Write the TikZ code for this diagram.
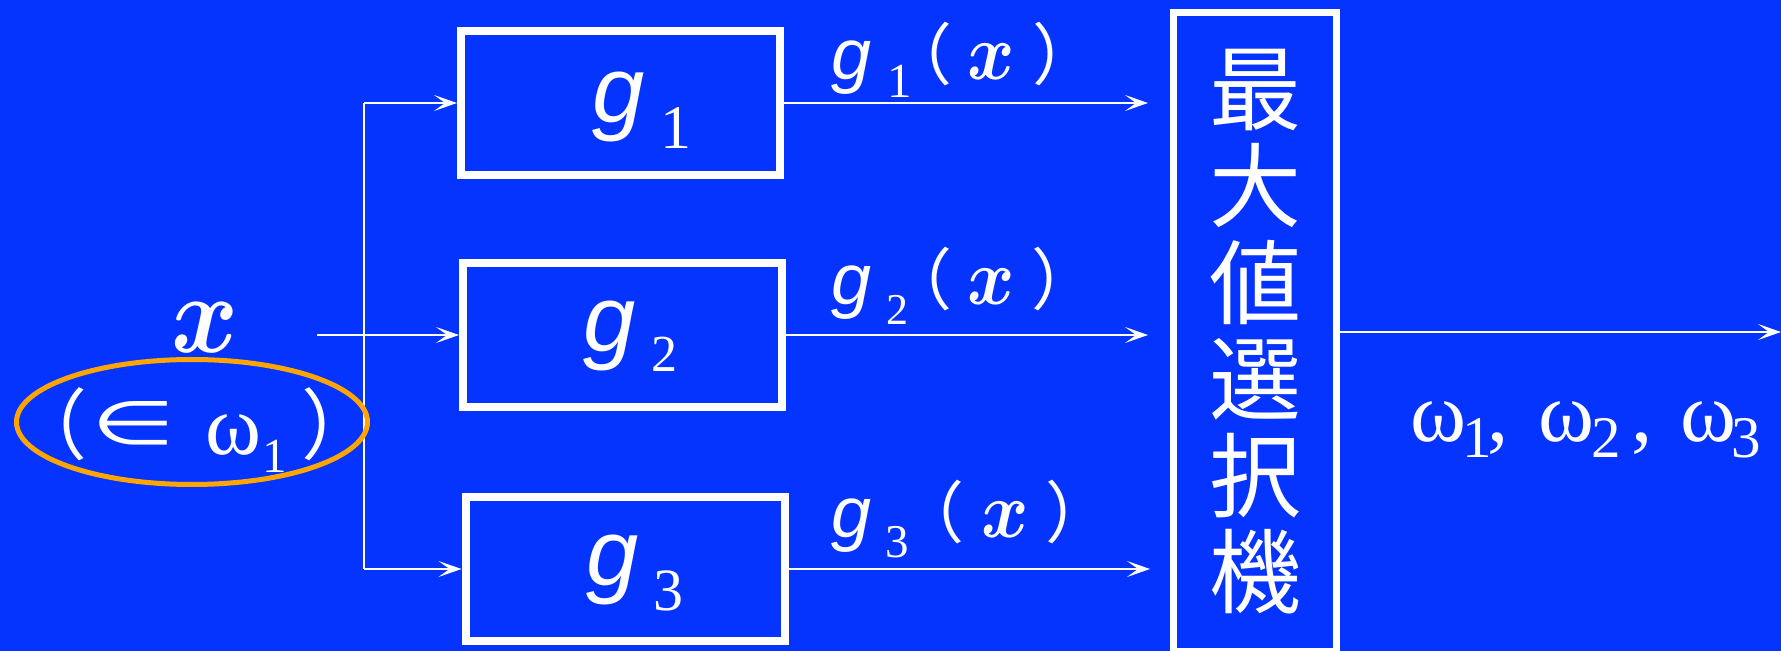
\documentclass[tikz,border=0pt]{standalone}
\usepackage{bm}
\usepackage{fontspec}
\usepackage{graphicx}
\setmainfont{Liberation Serif}
\newfontfamily\gfont{Liberation Sans}
\newfontfamily\cjkfont{Noto Sans CJK JP}
\newfontfamily\symfont{DejaVu Sans}
\usetikzlibrary{arrows.meta,shapes.geometric}
\definecolor{bgblue}{RGB}{5,51,255}
\definecolor{ringorange}{RGB}{255,165,0}
\newcommand{\bx}[2]{\scalebox{#1}[#2]{$\bm{x}$}}
\newcommand{\zw}[1]{\makebox[0pt]{#1}}
\begin{document}
\begin{tikzpicture}[x=0.5pt,y=-0.5pt,
  gbox/.style={draw=white, line width=4pt, minimum width=159.5pt, minimum height=72pt, inner sep=0pt},
  maxbox/.style={draw=white, line width=3.5pt, minimum width=81.5pt, minimum height=319.5pt, inner sep=0pt, text=white, align=center, font=\cjkfont\fontsize{46}{48.3}\selectfont},
  conn/.style={draw=white, line width=1pt},
  arr/.style={conn, -{Stealth[length=11.5pt,width=8pt,inset=5.5pt]}},
  txt/.style={text=white, inner sep=0pt, outer sep=0pt, anchor=base west},
  boxg/.style={txt, font=\gfont\itshape\fontsize{47}{50}\selectfont},
  labg/.style={txt, font=\gfont\itshape\fontsize{36}{40}\selectfont},
  labx/.style={txt},
  subn/.style={txt, font=\fontsize{#1}{#1}\selectfont},
  paren/.style={text=white, inner sep=0pt, outer sep=0pt, anchor=center, font=\cjkfont\fontsize{#1}{#1}\selectfont},
  om/.style={txt, font=\fontsize{42.5}{45}\selectfont},
  ring/.style={ellipse, draw=ringorange, line width=2.5pt, minimum width=175.5pt, minimum height=62.5pt, inner sep=0pt}
]
\fill[bgblue] (0,0) rectangle (1781,651);
\useasboundingbox (0,0) rectangle (1781,651);

% boxes
\node[gbox] (g1) at (620.5,103) {};
\node[gbox] (g2) at (622.5,335) {};
\node[gbox] (g3) at (625,569) {};
\node[maxbox] (max) at (1255,332) {最\\大\\値\\選\\択\\機};

% connectors
\coordinate (in) at (317,335);
\coordinate (j) at (364,335);
\coordinate (out) at (1781,332);
\draw[arr] (in) -- (g2.west);
\draw[conn] (j |- g1.west) -- (j |- g3.west);
\draw[arr] (j |- g1.west) -- (g1.west);
\draw[arr] (j |- g3.west) -- (g3.west);
\draw[arr, shorten >=11pt] (g1.east) -- (g1.east -| max.west);
\draw[arr, shorten >=11pt] (g2.east) -- (g2.east -| max.west);
\draw[arr, shorten >=10pt] (g3.east) -- (g3.east -| max.west);
\draw[arr] (max.east) -- (out);

% box labels
\node[boxg] (g1g) at (592,123) {g};
\node[subn=31] (g1i) at (660,149) {1};
\node[boxg] (g2g) at (583,352) {g};
\node[subn=26] (g2i) at (651,372) {2};
\node[boxg] (g3g) at (586,585) {g};
\node[subn=30] (g3i) at (653,610) {3};

% output labels
\node[labg] (o1g) at (831,80) {g};
\node[subn=24.5] (o1i) at (887,98) {1};
\node[paren=33.5] (o1l) at (919,54) {\zw{（}};
\node[labx] (o1x) at (967,80) {\bx{3.6}{4}};
\node[paren=33.5] (o1r) at (1066,54) {\zw{）}};

\node[labg] (o2g) at (831,305) {g};
\node[subn=22] (o2i) at (886,325) {2};
\node[paren=33.5] (o2l) at (919,279.5) {\zw{（}};
\node[labx] (o2x) at (967,305) {\bx{3.6}{4}};
\node[paren=33.5] (o2r) at (1065,279.5) {\zw{）}};

\node[labg] (o3g) at (831,537) {g};
\node[subn=23.5] (o3i) at (885,557) {3};
\node[paren=33.5] (o3l) at (931,512.5) {\zw{（}};
\node[labx] (o3x) at (981,538) {\bx{3.6}{4}};
\node[paren=33.5] (o3r) at (1079,512.5) {\zw{）}};

% input
\node[ring] (cls) at (192,422) {};
\node[txt] (xin) at (171,353) {\bx{5.1}{5.6}};
\node[paren=38.5] (cl) at (49,424) {\zw{（}};
\node[paren=38.5] (cr) at (340,424) {\zw{）}};
\node[text=white, inner sep=0pt, anchor=center] (elem) at (133,423.5) {\resizebox{42pt}{21.5pt}{\symfont ∈}};
\node[om] (w0) at (205,455) {ω};
\node[subn=24.5] (w0i) at (262,473) {1};

% result
\node[om] (w1) at (1410,442) {ω};
\node[subn=29.5] (w1i) at (1462,458) {1};
\node[om] (c1) at (1487,442) {,};
\node[om] (w2) at (1538,442) {ω};
\node[subn=29.5] (w2i) at (1591,458) {2};
\node[om] (c2) at (1631,442) {,};
\node[om] (w3) at (1680,442) {ω};
\node[subn=29.5] (w3i) at (1731,458) {3};
\end{tikzpicture}
\end{document}
